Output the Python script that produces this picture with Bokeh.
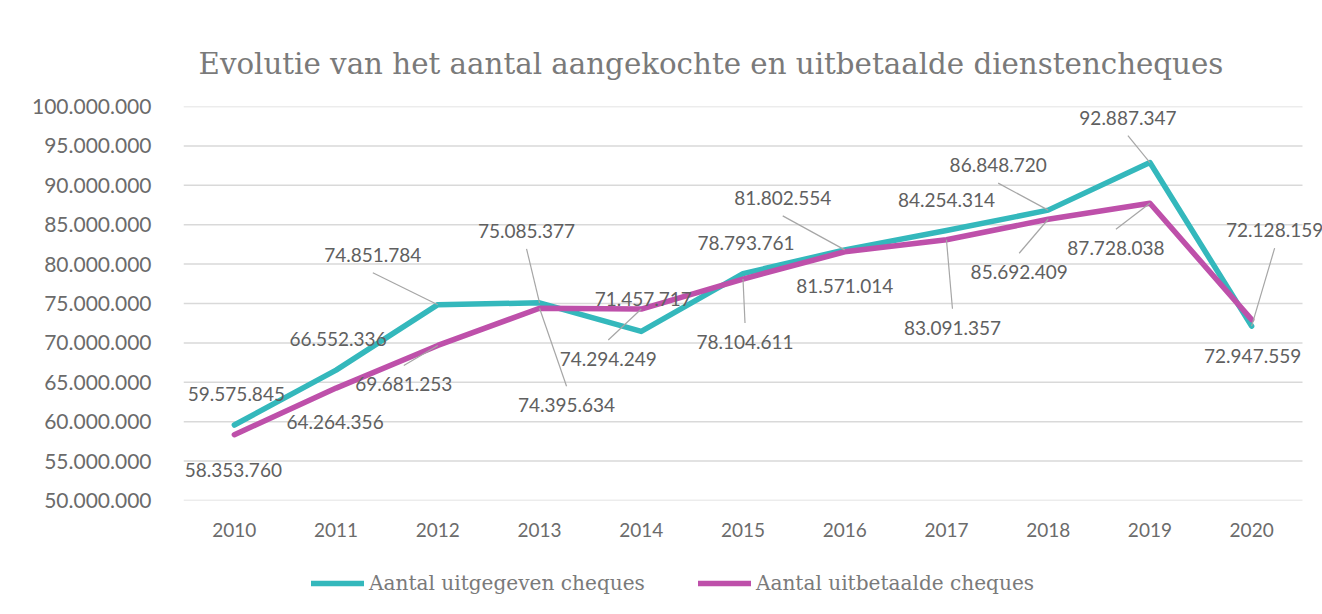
from bokeh.plotting import figure
from bokeh.layouts import column
from bokeh.models import (FixedTicker, CustomJSTickFormatter, Legend, LegendItem,
                          ColumnDataSource, Range1d, Label)
from bokeh.embed import file_html
from bokeh.resources import INLINE
from bokeh.core.properties import value

# ---------------- data ----------------
years = ["2010", "2011", "2012", "2013", "2014", "2015", "2016", "2017", "2018", "2019", "2020"]
uitgegeven = [59575845, 66552336, 74851784, 75085377, 71457717, 78793761,
              81802554, 84254314, 86848720, 92887347, 72128159]
uitbetaald = [58353760, 64264356, 69681253, 74395634, 74294249, 78104611,
              81571014, 83091357, 85692409, 87728038, 72947559]
y_ticks = [50000000, 55000000, 60000000, 65000000, 70000000, 75000000,
           80000000, 85000000, 90000000, 95000000, 100000000]
series_names = ["Aantal uitgegeven cheques", "Aantal uitbetaalde cheques"]
title_text = "Evolutie van het aantal aangekochte en uitbetaalde dienstencheques"

# ---------------- label placement (screen px offsets, y down) ----------------
teal_dx = [2, 2, -65, -13, 2, 3, -62, 0, -50, -22, 23]
teal_dy = [-31, -31, -50, -72, -32, -31, -52, -31, -45, -45, -96]
teal_leader = [0, 0, 1, 1, 0, 0, 1, 0, 1, 1, 1]
mag_dx = [-1, -1, -34, 27, -33, 2, 0, 6, -29, -34, 1]
mag_dy = [35, 34, 39, 97, 50, 63, 34, 88, 53, 45, 36]
mag_leader = [0, 0, 1, 1, 1, 1, 0, 1, 1, 1, 0]

TEAL = "#34B8BC"
MAGENTA = "#BE50AA"
GRID = "#D9D9D9"
TXT = "#6B6B6B"

W = 1322
H0, H1, H2 = 86, 470, 58         # header (title), plot, legend strip
ML, MT, MB = 183, 20, 56
GAP_R = 20                       # empty plot area right of the last category
frame_w = W - ML
frame_h = H1 - MT - MB
y0, y1 = 50000000, 100000000
n = len(years)
px_x = (frame_w - GAP_R) / n
per_px_y = (y1 - y0) / frame_h
x_end = -0.5 + frame_w / px_x

# ---------------- header with title ----------------
hdr = figure(width=W, height=H0, output_backend="svg", toolbar_location=None,
             x_range=Range1d(-0.5, x_end), y_range=Range1d(0, H0),
             min_border_left=ML, min_border_right=0, min_border_top=0, min_border_bottom=0,
             background_fill_color="white", border_fill_color="white")
hdr.axis.visible = False
hdr.grid.visible = False
hdr.outline_line_color = None
hdr.add_layout(Label(x=-0.5 + 15 / px_x, y=H0 - 63, text=title_text,
                     text_font="DejaVu Serif", text_font_size="29.3px",
                     text_color="#7A7A7A", text_align="left",
                     text_baseline="alphabetic"))

# ---------------- main plot ----------------
p = figure(width=W, height=H1, output_backend="svg", toolbar_location=None,
           x_range=Range1d(-0.5, x_end), y_range=Range1d(y0, y1),
           min_border_left=ML, min_border_right=0, min_border_top=MT, min_border_bottom=MB,
           background_fill_color="white", border_fill_color="white")
p.outline_line_color = None

xs = list(range(n))
p.xaxis.ticker = FixedTicker(ticks=xs)
p.xaxis.major_label_overrides = {i: y for i, y in enumerate(years)}
p.xaxis.axis_line_color = None
p.xaxis.major_tick_line_color = None
p.xaxis.major_tick_out = 0
p.xaxis.major_tick_in = 0
p.xaxis.minor_tick_line_color = None
p.xaxis.major_label_text_font = "Lato"
p.xaxis.major_label_text_font_size = "19px"
p.xaxis.major_label_text_color = TXT
p.xaxis.major_label_standoff = 22

p.yaxis.ticker = FixedTicker(ticks=y_ticks)
p.yaxis.formatter = CustomJSTickFormatter(
    code="return Math.round(tick).toString().replace(/\\B(?=(\\d{3})+(?!\\d))/g, '.');")
p.yaxis.axis_line_color = None
p.yaxis.major_tick_line_color = None
p.yaxis.major_tick_out = 0
p.yaxis.major_tick_in = 0
p.yaxis.minor_tick_line_color = None
p.yaxis.major_label_text_font = "Lato"
p.yaxis.major_label_text_font_size = "21px"
p.yaxis.major_label_text_color = TXT
p.yaxis.major_label_standoff = 32

p.xgrid.grid_line_color = None
p.ygrid.grid_line_color = None
# horizontal gridlines over the category span only
p.segment(x0=[-0.5] * len(y_ticks), y0=y_ticks, x1=[n - 0.5] * len(y_ticks), y1=y_ticks,
          line_color=GRID, line_width=1.5)

r_teal = p.line(xs, uitgegeven, line_color=TEAL, line_width=5.5,
                line_join="round", line_cap="round")
r_mag = p.line(xs, uitbetaald, line_color=MAGENTA, line_width=5.5,
               line_join="round", line_cap="round")


def fmt(v):
    return f"{v:,}".replace(",", ".")


def labels(vals, dxs, dys, leaders):
    lx0, ly0, lx1, ly1 = [], [], [], []
    for i, (v, dx, dy, ld) in enumerate(zip(vals, dxs, dys, leaders)):
        if not ld:
            continue
        sdy = dy + 18 if dy < 0 else dy - 19
        lx0.append(i + dx / px_x)
        ly0.append(v - sdy * per_px_y)
        lx1.append(i)
        ly1.append(v)
    p.segment(lx0, ly0, lx1, ly1, line_color="#A6A6A6", line_width=1.2)
    src = ColumnDataSource(dict(x=xs, y=vals, t=[fmt(v) for v in vals],
                                dx=dxs, dy=dys))
    p.text(x="x", y="y", text="t", x_offset="dx", y_offset="dy", source=src,
           text_align="center", text_baseline="middle",
           text_font=value("Lato"), text_font_size="19px", text_color="#606060")


labels(uitgegeven, teal_dx, teal_dy, teal_leader)
labels(uitbetaald, mag_dx, mag_dy, mag_leader)

# ---------------- legend strip ----------------
p2 = figure(width=W, height=H2, output_backend="svg", toolbar_location=None,
            x_range=Range1d(0, 1), y_range=Range1d(0, 1),
            min_border_left=ML, min_border_right=0, min_border_top=0, min_border_bottom=0,
            background_fill_color="white", border_fill_color="white")
p2.axis.visible = False
p2.grid.visible = False
p2.outline_line_color = None
# swatch renderers: drawn outside the visible range, only used by the legend
l_teal = p2.line(x=[5, 6], y=[5, 5], line_color=TEAL, line_width=5.5, line_cap="round")
l_mag = p2.line(x=[5, 6], y=[5, 5], line_color=MAGENTA, line_width=5.5, line_cap="round")

legend = Legend(items=[LegendItem(label=series_names[0], renderers=[l_teal]),
                       LegendItem(label=series_names[1], renderers=[l_mag])],
                orientation="horizontal", location=(128, 19))
legend.label_text_font = "DejaVu Serif"
legend.label_text_font_size = "20.1px"
legend.label_text_color = "#7A7A7A"
legend.glyph_width = 53
legend.glyph_height = 20
legend.label_standoff = 5
legend.spacing = 53
legend.padding = 5
legend.margin = 0
legend.border_line_color = None
legend.background_fill_alpha = 0
p2.add_layout(legend, "center")

open("out.html", "w").write(file_html(column(hdr, p, p2, spacing=0), INLINE))
